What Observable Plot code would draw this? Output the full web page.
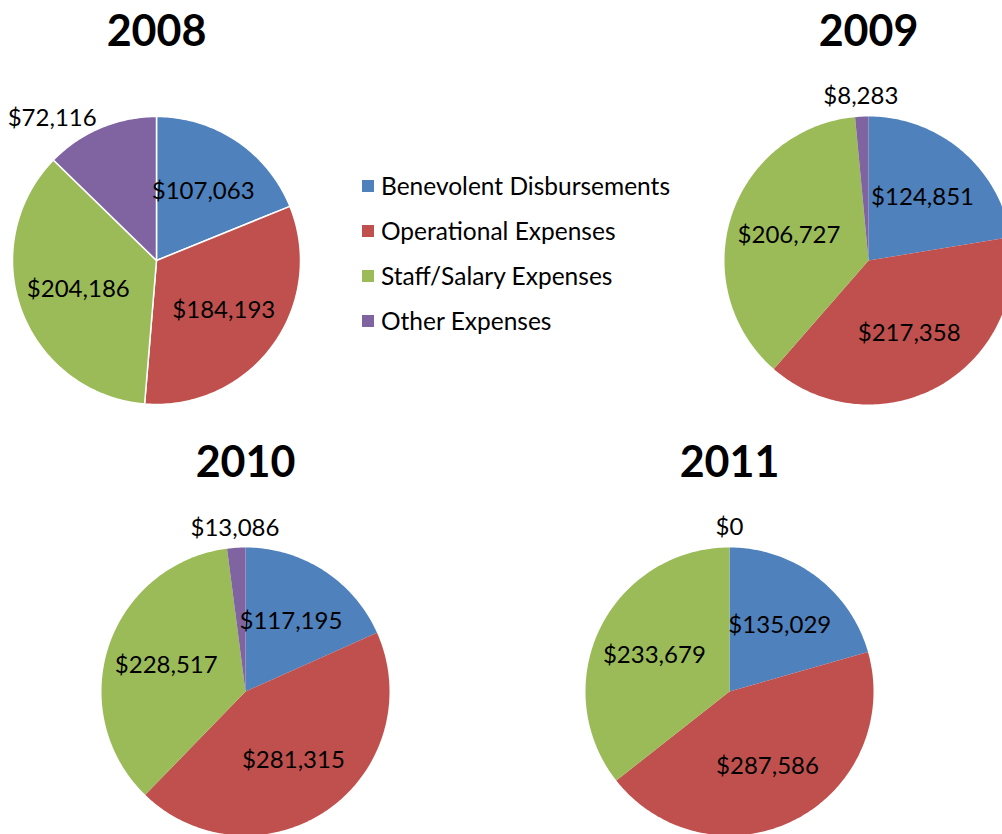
<!DOCTYPE html>
<html>
<head>
<meta charset="utf-8">
<script src="https://cdn.jsdelivr.net/npm/d3@7"></script>
<script src="https://cdn.jsdelivr.net/npm/@observablehq/plot@0.6"></script>
<style>
  body { margin: 0; background: #fff; }
  #root { position: relative; width: 1002px; height: 834px; overflow: hidden; background: #fff; font-family: Lato, "Open Sans", sans-serif; }
  .panel { position: absolute; }
  .panel svg { max-width: none !important; }
  .legend { position: absolute; left: 358px; top: 163px; }
  .legend .row { display: flex; align-items: center; height: 45px; font-size: 24.5px; color: #000; white-space: nowrap; }
  .legend .sw { width: 12px; height: 12px; margin-left: 4px; margin-right: 7px; }
</style>
</head>
<body>
<div id="root"></div>
<script>
// ---- data ----
const years = ["2008", "2009", "2010", "2011"];
const categories = ["Benevolent Disbursements", "Operational Expenses", "Staff/Salary Expenses", "Other Expenses"];
const benevolent = [107063, 124851, 117195, 135029];
const operational = [184193, 217358, 281315, 287586];
const staff = [204186, 206727, 228517, 233679];
const other = [72116, 8283, 13086, 0];
const colors = ["#4F81BD", "#C0504D", "#9BBB59", "#8064A2"];

// ---- layout / style ----
const series = [benevolent, operational, staff, other];
const R = 144;                       // pie radius in px
const W = 400, TOP = 250, BOT = 170; // panel size around pie centre
const centres = {"2008": [156, 260], "2009": [868, 260], "2010": [245, 691], "2011": [729, 691]};
const bordered = new Set(["2008"]);
const fmt = d3.format("$,");
const root = document.getElementById("root");

years.forEach((yr, i) => {
  const rows = categories.map((c, k) => ({category: c, value: series[k][i]}));
  const total = d3.sum(rows, d => d.value);
  const arcs = d3.pie().sort(null).value(d => d.value)(rows);

  const poly = [];
  arcs.forEach(a => {
    const span = a.endAngle - a.startAngle;
    if (span <= 0) return;
    const n = Math.max(2, Math.ceil(span / (Math.PI / 180)));
    const c = a.data.category;
    poly.push({category: c, px: 0, py: 0});
    for (let j = 0; j <= n; j++) {
      const t = a.startAngle + span * j / n;
      poly.push({category: c, px: Math.sin(t), py: Math.cos(t)});
    }
    poly.push({category: c, px: 0, py: 0});
  });

  const labels = arcs.map(a => {
    const mid = (a.startAngle + a.endAngle) / 2;
    const outside = a.data.value / total < 0.15;
    const s = Math.sin(mid);
    const anchor = outside ? (s < -0.3 ? "end" : s > 0.3 ? "start" : "middle") : "middle";
    const d = outside ? (anchor === "middle" ? 1 + 20 / R : 1 + 10 / R) : 0.58;
    return {text: fmt(a.data.value), px: d * Math.sin(mid), py: d * Math.cos(mid), anchor};
  });

  const marks = [
    Plot.line(poly, {
      x: "px", y: "py", z: "category", fill: "category",
      stroke: bordered.has(yr) ? "white" : "none", strokeWidth: 1.5, strokeLinejoin: "round"
    })
  ];
  ["start", "middle", "end"].forEach(anc => {
    const sub = labels.filter(l => l.anchor === anc);
    if (sub.length) marks.push(Plot.text(sub, {x: "px", y: "py", text: "text", textAnchor: anc, fontSize: 24, fill: "#000"}));
  });
  marks.push(Plot.text([{px: 0, py: 228 / R, t: yr}], {x: "px", y: "py", text: "t", fontSize: 43, fontWeight: "bold", fill: "#000"}));

  const svg = Plot.plot({
    width: W, height: TOP + BOT, margin: 0,
    x: {domain: [-W / 2 / R, W / 2 / R], axis: null},
    y: {domain: [-BOT / R, TOP / R], axis: null},
    color: {domain: categories, range: colors},
    style: {overflow: "visible", fontFamily: "Lato, 'Open Sans', sans-serif", background: "transparent", maxWidth: "none"},
    marks
  });
  const wrap = document.createElement("div");
  wrap.className = "panel";
  wrap.style.left = (centres[yr][0] - W / 2) + "px";
  wrap.style.top = (centres[yr][1] - TOP) + "px";
  wrap.style.width = W + "px";
  wrap.style.height = (TOP + BOT) + "px";
  wrap.appendChild(svg);
  root.appendChild(wrap);
});

// legend
const leg = document.createElement("div");
leg.className = "legend";
categories.forEach((c, k) => {
  const row = document.createElement("div");
  row.className = "row";
  const sw = document.createElement("span");
  sw.className = "sw";
  sw.style.background = colors[k];
  const tx = document.createElement("span");
  tx.textContent = c;
  row.appendChild(sw); row.appendChild(tx);
  leg.appendChild(row);
});
root.appendChild(leg);
</script>
</body>
</html>
